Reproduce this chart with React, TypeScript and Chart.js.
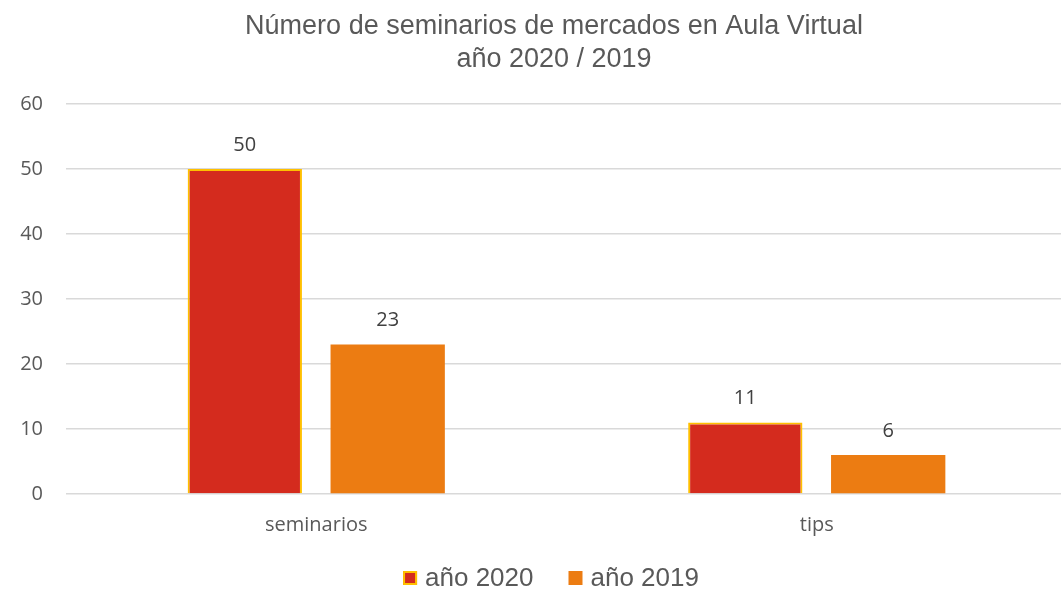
import React, { useEffect, useRef } from "react";
import { Chart, registerables } from "chart.js";

Chart.register(...registerables);

const categories = ["seminarios", "tips"];
const values2020 = [50, 11];
const values2019 = [23, 6];
const seriesLabels = ["año 2020", "año 2019"];
const titleLines = ["Número de seminarios de mercados en Aula Virtual", "año 2020 / 2019"];
const yMin = 0;
const yMax = 60;
const yStep = 10;

const valueLabelPlugin = {
  id: "valueLabels",
  afterDatasetsDraw(chart: any) {
    const ctx = chart.ctx;
    ctx.save();
    ctx.font = "20px 'Open Sans'";
    ctx.fillStyle = "#404040";
    ctx.textAlign = "center";
    ctx.textBaseline = "middle";
    chart.data.datasets.forEach((ds: any, i: number) => {
      const meta = chart.getDatasetMeta(i);
      meta.data.forEach((bar: any, j: number) => {
        ctx.fillText(String(ds.data[j]), bar.x, bar.y - 24);
      });
    });
    ctx.restore();
  },
};

const customTitlePlugin = {
  id: "customTitle",
  afterDraw(chart: any) {
    const ctx = chart.ctx;
    ctx.save();
    ctx.font = "27px 'Liberation Sans'";
    ctx.fillStyle = "#595959";
    ctx.textAlign = "center";
    ctx.textBaseline = "middle";
    const cx = 554;
    titleLines.forEach((line, i) => {
      ctx.fillText(line, cx, 27 + i * 33);
    });
    ctx.restore();
  },
};

const customLegendPlugin = {
  id: "customLegend",
  afterDraw(chart: any) {
    const ctx = chart.ctx;
    const box = 14;
    const textGap = 8;
    const itemGap = 35;
    const centerX = chart.width / 2 - 3;
    const cy = 578;
    ctx.save();
    ctx.font = "26px 'Liberation Sans'";
    ctx.textBaseline = "middle";
    ctx.textAlign = "left";
    const items = chart.data.datasets.map((ds: any) => ({
      label: ds.label,
      fill: ds.backgroundColor,
      stroke: ds.borderColor,
      bw: ds.borderWidth,
      w: ctx.measureText(ds.label).width,
    }));
    let total = 0;
    items.forEach((it: any, i: number) => {
      total += box + textGap + it.w + (i > 0 ? itemGap : 0);
    });
    let x = centerX - total / 2;
    items.forEach((it: any) => {
      ctx.fillStyle = it.fill;
      ctx.fillRect(x, cy - box / 2, box, box);
      if (it.bw > 0) {
        ctx.strokeStyle = it.stroke;
        ctx.lineWidth = it.bw;
        ctx.strokeRect(x + it.bw / 2, cy - box / 2 + it.bw / 2, box - it.bw, box - it.bw);
      }
      ctx.fillStyle = "#595959";
      ctx.fillText(it.label, x + box + textGap, cy + 1);
      x += box + textGap + it.w + itemGap;
    });
    ctx.restore();
  },
};

export default function App() {
  const ref = useRef<HTMLCanvasElement>(null);
  useEffect(() => {
    document.body.style.margin = "0";
    const chart = new Chart(ref.current!, {
      type: "bar",
      data: {
        labels: categories,
        datasets: [
          {
            label: seriesLabels[0],
            data: values2020,
            backgroundColor: "#D42B1E",
            borderColor: "#FFC000",
            borderWidth: 2,
            barPercentage: 0.8,
            categoryPercentage: 0.571,
          },
          {
            label: seriesLabels[1],
            data: values2019,
            backgroundColor: "#EC7C12",
            borderColor: "#EC7C12",
            borderWidth: 0,
            barPercentage: 0.8,
            categoryPercentage: 0.571,
          },
        ],
      },
      options: {
        animation: false,
        responsive: false,
        maintainAspectRatio: false,
        layout: { padding: { left: 0, right: 41, top: 104, bottom: 41 } },
        plugins: {
          tooltip: { enabled: false },
          legend: { display: false },
          title: { display: false },
        },
        scales: {
          x: {
            grid: { display: false },
            border: { display: false },
            ticks: {
              color: "#595959",
              font: { family: "'Open Sans'", size: 20 },
              padding: 11,
            },
          },
          y: {
            min: yMin,
            max: yMax,
            grid: { color: "#D9D9D9", lineWidth: 1.5, drawTicks: false },
            border: { display: false },
            ticks: {
              stepSize: yStep,
              color: "#595959",
              font: { family: "'Open Sans'", size: 20 },
              padding: 23,
            },
            afterFit(scale: any) {
              scale.width = 66;
            },
          },
        },
      },
      plugins: [valueLabelPlugin, customTitlePlugin, customLegendPlugin],
    });
    return () => chart.destroy();
  }, []);
  return (
    <div style={{ width: 1061, height: 589, overflow: "hidden" }}>
      <canvas ref={ref} width={1108} height={589} style={{ display: "block" }} />
    </div>
  );
}
